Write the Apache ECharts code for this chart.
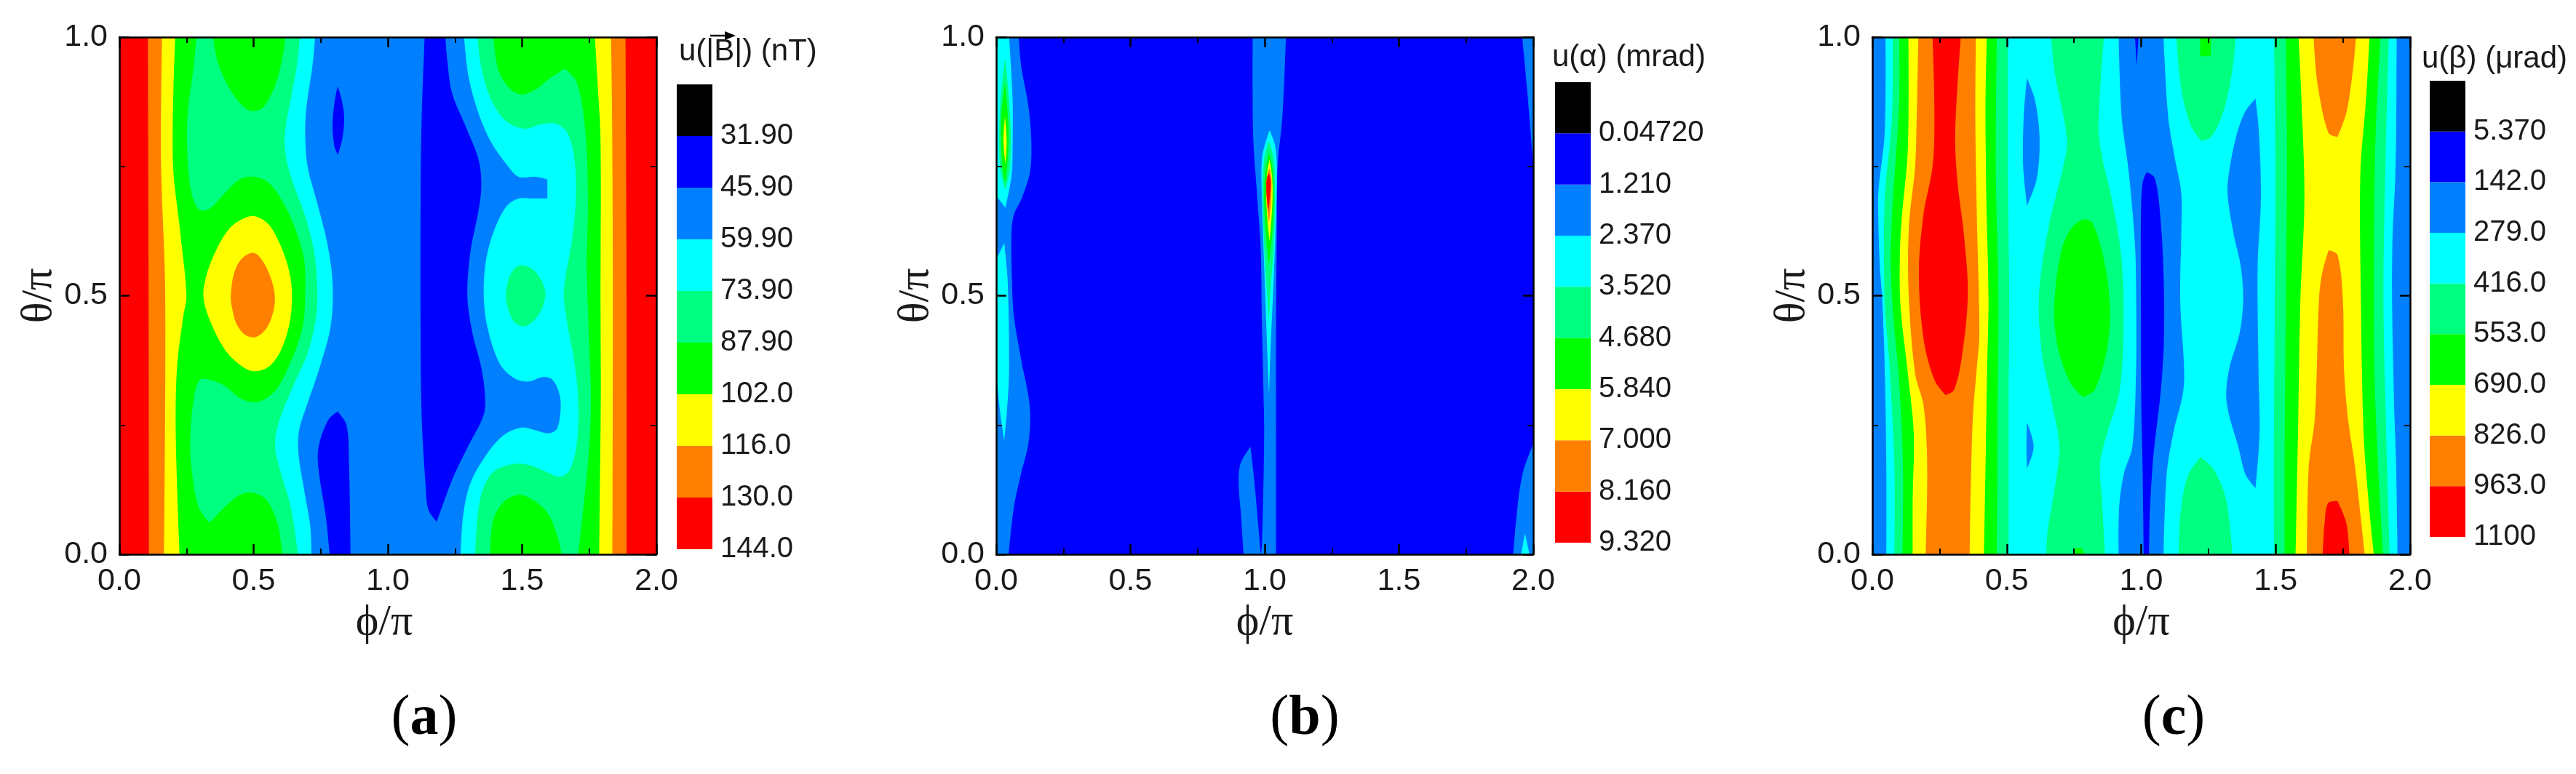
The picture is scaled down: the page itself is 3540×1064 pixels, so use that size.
<!DOCTYPE html>
<html><head><meta charset="utf-8">
<style>html,body{margin:0;padding:0;background:#fff}#c{width:3540px;height:1064px}</style>
<script src="https://cdn.jsdelivr.net/npm/echarts@6/dist/echarts.min.js"></script>
</head><body><div id="c"></div>
<script>
// Contour level colours, low to high
const BLACK='#000000',BLUE='#0000ff',AZURE='#0080ff',CYAN='#00ffff',SPRING='#00ff80',GREEN='#00ff00',YELLOW='#ffff00',ORANGE='#ff8000',RED='#ff0000';
const legendColors=[RED,ORANGE,YELLOW,GREEN,SPRING,CYAN,AZURE,BLUE,BLACK];
const tickLabelsA=['144.0','130.0','116.0','102.0','87.90','73.90','59.90','45.90','31.90',''];
const tickLabelsB=['9.320','8.160','7.000','5.840','4.680','3.520','2.370','1.210','0.04720',''];
const tickLabelsC=['1100','963.0','826.0','690.0','553.0','416.0','279.0','142.0','5.370',''];
const whole=[[0,0],[2,0],[2,1],[0,1]];

// Panel (a): contour outlines as [phi/pi, theta/pi]
const a_orange=[[.106,1],[.109,.5],[.110,0],[1.889,0],[1.889,.5],[1.885,1]];
const a_yellow=[[.159,1],[.155,.763],[.171,.5],[.166,0],[1.836,0],[1.838,.5],[1.835,.85],[1.831,1]];
const a_green=[[.208,1],[.199,.763],[.227,.621],[.250,.5],[.238,.46],[.215,.363],[.210,.234],[.224,0],[1.787,0],[1.789,.105],[1.793,.299],[1.792,.493],[1.792,.802],[1.781,.912],[1.771,1]];
const a_spring=[[.287,1],[.277,.944],[.254,.847],[.256,.750],[.272,.692],[.299,.666],[.336,.668],[.394,.699],[.449,.725],[.503,.730],[.557,.718],[.611,.679],[.656,.628],[.688,.570],[.692,.499],[.683,.441],[.647,.383],[.593,.325],[.548,.302],[.503,.294],[.449,.302],[.394,.325],[.340,.337],[.299,.337],[.277,.299],[.265,.234],[.268,.170],[.295,.092],[.336,.061],[.394,.092],[.449,.115],[.498,.119],[.548,.105],[.589,.060],[.607,0],[1.709,0],[1.731,.105],[1.749,.202],[1.756,.299],[1.748,.428],[1.741,.557],[1.745,.686],[1.736,.815],[1.704,.912],[1.659,.939],[1.605,.921],[1.551,.899],[1.496,.889],[1.451,.902],[1.411,.937],[1.393,1]];
const a_greenTop=[[.349,1],[.367,.950],[.412,.899],[.467,.863],[.503,.857],[.539,.866],[.584,.912],[.611,.970],[.617,1]];
const a_greenBottom=[[1.381,0],[1.392,.066],[1.433,.102],[1.487,.115],[1.541,.105],[1.596,.079],[1.632,.034],[1.647,0]];
const a_yellowIsland=[[.313,.499],[.327,.544],[.367,.595],[.412,.631],[.458,.648],[.503,.654],[.557,.637],[.602,.595],[.634,.544],[.643,.499],[.634,.447],[.602,.395],[.557,.363],[.503,.354],[.458,.363],[.394,.395],[.336,.454]];
const a_orangeIsland=[[.415,.499],[.426,.541],[.453,.570],[.494,.583],[.521,.576],[.557,.544],[.578,.505],[.575,.473],[.548,.437],[.507,.420],[.467,.425],[.435,.447],[.419,.479]];
const a_cyan=[[.672,1],[.661,.944],[.638,.879],[.617,.815],[.620,.770],[.647,.718],[.692,.654],[.724,.589],[.736,.525],[.733,.460],[.701,.389],[.647,.325],[.593,.254],[.580,.208],[.602,.157],[.638,.092],[.665,0],[1.325,0],[1.343,.105],[1.388,.157],[1.460,.174],[1.524,.173],[1.587,.160],[1.641,.150],[1.677,.163],[1.704,.215],[1.709,.299],[1.695,.370],[1.668,.447],[1.655,.502],[1.664,.544],[1.686,.608],[1.700,.686],[1.695,.763],[1.668,.815],[1.623,.833],[1.569,.831],[1.505,.823],[1.433,.841],[1.379,.886],[1.347,.944],[1.334,1]];
const a_springIsland=[[1.501,.559],[1.542,.550],[1.573,.528],[1.587,.502],[1.569,.470],[1.533,.447],[1.501,.441],[1.469,.450],[1.447,.476],[1.440,.502],[1.451,.534],[1.474,.554]];
const a_azure=[[.729,1],[.719,.944],[.697,.866],[.692,.815],[.701,.750],[.737,.679],[.774,.602],[.794,.525],[.787,.441],[.747,.363],[.701,.292],[.670,.241],[.667,.195],[.688,.125],[.711,.054],[.715,0],[1.271,0],[1.280,.073],[1.307,.137],[1.370,.195],[1.433,.231],[1.497,.245],[1.542,.241],[1.596,.234],[1.627,.241],[1.641,.266],[1.641,.305],[1.614,.337],[1.578,.343],[1.524,.334],[1.469,.341],[1.415,.370],[1.370,.441],[1.357,.505],[1.366,.570],[1.397,.628],[1.442,.673],[1.487,.688],[1.533,.688],[1.594,.688],[1.594,.725],[1.551,.730],[1.487,.730],[1.442,.754],[1.379,.802],[1.329,.866],[1.298,.931],[1.284,1]];
const a_blueCenter=[[1.137,1],[1.126,.847],[1.122,.686],[1.122,.428],[1.126,.266],[1.140,.137],[1.151,.086],[1.182,.063],[1.207,.099],[1.244,.150],[1.298,.208],[1.357,.270],[1.361,.312],[1.347,.363],[1.315,.428],[1.296,.499],[1.307,.583],[1.338,.666],[1.348,.712],[1.338,.763],[1.289,.828],[1.239,.892],[1.221,.957],[1.214,1]];
const a_blueUpper=[[.813,.905],[.828,.879],[.837,.847],[.832,.808],[.814,.772],[.801,.789],[.794,.828],[.801,.873]];
const a_blueLower=[[.813,.276],[.846,.250],[.855,.183],[.861,0],[.783,0],[.769,.073],[.742,.163],[.742,.208],[.778,.260]];
const layersA=[[RED,whole],[ORANGE,a_orange],[YELLOW,a_yellow],[GREEN,a_green],[SPRING,a_spring],[GREEN,a_greenTop],[GREEN,a_greenBottom],[YELLOW,a_yellowIsland],[ORANGE,a_orangeIsland],[CYAN,a_cyan],[SPRING,a_springIsland],[AZURE,a_azure],[BLUE,a_blueCenter],[BLUE,a_blueUpper],[BLUE,a_blueLower]];

// Panel (b)
const b_azureLeft=[[.084,1],[.093,.944],[.120,.866],[.131,.795],[.125,.737],[.093,.686],[.066,.657],[.057,.621],[.059,.525],[.066,.460],[.093,.376],[.125,.286],[.120,.215],[.093,.157],[.066,.092],[.046,0],[0,0],[0,1]];
const b_cyanUpperLeft=[[.048,1],[.061,.879],[.061,.783],[.057,.731],[.034,.670],[.016,.683],[0,.692],[0,1]];
const b_springUpperLeft=[[.033,.960],[.052,.847],[.052,.750],[.034,.705],[.014,.750],[.014,.860]];
const b_greenUpperLeft=[[.033,.912],[.046,.821],[.041,.750],[.033,.718],[.021,.761],[.019,.847]];
const b_yellowUpperLeft=[[.033,.847],[.039,.795],[.034,.755],[.027,.802]];
const b_cyanLowerLeft=[[.030,.602],[.043,.525],[.048,.363],[.043,.299],[.030,.220],[.012,.286],[0,.363],[0,.570]];
const b_azureCenter=[[.955,1],[.955,.881],[.958,.795],[.971,.699],[.985,.589],[.989,.460],[.996,.299],[.998,.234],[.994,.105],[.989,.015],[.985,0],[1.042,0],[1.042,.234],[1.042,.428],[1.045,.621],[1.048,.750],[1.066,.847],[1.079,1]];
const b_azureLobe=[[.921,0],[.912,.073],[.903,.137],[.910,.176],[.947,.208],[.962,.137],[.985,0]];
const b_cyanSpike=[[1.018,.820],[1.039,.789],[1.045,.731],[1.039,.608],[1.030,.492],[1.021,.389],[1.016,.308],[1.007,.428],[.998,.557],[.989,.699],[.991,.770]];
const b_springSpike=[[1.016,.799],[1.034,.763],[1.039,.705],[1.033,.589],[1.021,.505],[1.016,.447],[1.007,.518],[.996,.621],[.992,.712],[1.000,.770]];
const b_greenSpike=[[1.016,.776],[1.028,.750],[1.034,.699],[1.028,.621],[1.016,.560],[1.007,.602],[.998,.686],[1.003,.744]];
const b_yellowSpike=[[1.018,.763],[1.028,.725],[1.028,.673],[1.018,.605],[1.010,.647],[1.005,.699],[1.009,.737]];
const b_orangeSpike=[[1.018,.747],[1.025,.725],[1.023,.679],[1.016,.641],[1.009,.673],[1.007,.705],[1.009,.731]];
const b_redSpike=[[1.016,.737],[1.022,.721],[1.018,.686],[1.014,.666],[1.007,.692],[1.007,.725]];
const b_azureRightTop=[[1.959,1],[1.980,.881],[2,.752],[2,1]];
const b_azureRightBottom=[[2,.213],[1.965,.165],[1.945,.108],[1.925,0],[2,0]];
const b_cyanRightBottom=[[1.969,.041],[1.986,0],[1.955,0]];
const layersB=[[BLUE,whole],[AZURE,b_azureLeft],[CYAN,b_cyanUpperLeft],[SPRING,b_springUpperLeft],[GREEN,b_greenUpperLeft],[YELLOW,b_yellowUpperLeft],[CYAN,b_cyanLowerLeft],[AZURE,b_azureCenter],[AZURE,b_azureLobe],[CYAN,b_cyanSpike],[SPRING,b_springSpike],[GREEN,b_greenSpike],[YELLOW,b_yellowSpike],[ORANGE,b_orangeSpike],[RED,b_redSpike],[AZURE,b_azureRightTop],[AZURE,b_azureRightBottom],[CYAN,b_cyanRightBottom]];

// Panel (c)
const c_cyan=[[.049,1],[.046,.815],[.023,.705],[.022,.654],[.028,.557],[.037,.492],[.046,.363],[.052,.170],[.052,0],[1.953,0],[1.948,.170],[1.940,.299],[1.933,.492],[1.935,.621],[1.944,.718],[1.948,.815],[1.950,1]];
const c_springLeft=[[.076,1],[.075,.879],[.069,.815],[.046,.686],[.046,.492],[.064,.363],[.082,.170],[.082,0],[.507,0],[.507,.299],[.509,.492],[.504,.750],[.504,1]];
const c_springCenter=[[.665,1],[.678,.932],[.724,.802],[.710,.750],[.656,.634],[.620,.505],[.629,.395],[.665,.299],[.696,.208],[.683,.144],[.651,.041],[.647,0],[.865,0],[.854,.105],[.847,.176],[.873,.234],[.918,.312],[.934,.428],[.927,.570],[.891,.686],[.854,.770],[.841,.828],[.861,1]];
const c_springTopLobe=[[1.131,1],[1.149,.899],[1.185,.828],[1.224,.799],[1.262,.808],[1.308,.860],[1.339,.937],[1.351,1]];
const c_springBottomLobe=[[1.140,0],[1.145,.073],[1.172,.150],[1.221,.188],[1.271,.163],[1.316,.105],[1.339,0]];
const c_springRight=[[1.494,1],[1.499,.750],[1.497,.492],[1.493,.170],[1.494,0],[1.924,0],[1.911,.234],[1.901,.492],[1.908,.750],[1.921,1]];
const c_greenLeft=[[.100,1],[.100,.879],[.091,.795],[.073,.654],[.069,.557],[.078,.460],[.100,.331],[.114,.170],[.112,0],[.463,0],[.466,.299],[.469,.492],[.459,.750],[.463,1]];
const c_greenCenter=[[.782,.647],[.818,.641],[.864,.563],[.884,.473],[.872,.395],[.827,.318],[.782,.304],[.737,.331],[.692,.395],[.676,.473],[.701,.583],[.737,.628]];
const c_greenBottomSpeck=[[.751,0],[.787,0],[.778,.012],[.755,.012]];
const c_greenTopSpeck=[[1.219,1],[1.259,1],[1.259,.963],[1.219,.963]];
const c_greenRight=[[1.538,1],[1.542,.750],[1.538,.492],[1.533,.170],[1.533,0],[1.899,0],[1.881,.170],[1.867,.363],[1.866,.621],[1.872,.815],[1.890,1]];
const c_yellowLeft=[[.134,1],[.132,.783],[.109,.647],[.102,.570],[.105,.479],[.132,.350],[.154,.234],[.150,.105],[.150,0],[.415,0],[.421,.170],[.427,.363],[.432,.492],[.424,.686],[.421,.879],[.426,1]];
const c_yellowRight=[[1.585,1],[1.596,.879],[1.607,.686],[1.592,.492],[1.583,.234],[1.574,0],[1.865,0],[1.845,.105],[1.827,.234],[1.817,.492],[1.815,.737],[1.836,.879],[1.849,1]];
const c_orangeLeft=[[.171,1],[.165,.847],[.159,.750],[.136,.634],[.135,.505],[.159,.350],[.191,.286],[.204,.170],[.198,0],[.362,0],[.365,.105],[.374,.266],[.389,.363],[.398,.428],[.389,.647],[.383,.847],[.385,1]];
const c_orangeTop=[[1.641,1],[1.655,.912],[1.696,.815],[1.730,.807],[1.763,.854],[1.786,.931],[1.799,1]];
const c_orangeBottom=[[1.697,.588],[1.730,.579],[1.750,.492],[1.754,.363],[1.768,.266],[1.795,.170],[1.831,0],[1.616,0],[1.623,.170],[1.646,.266],[1.661,.492],[1.673,.544]];
const c_redLeft=[[.224,1],[.231,.847],[.224,.750],[.191,.660],[.173,.544],[.191,.415],[.231,.337],[.272,.308],[.304,.318],[.335,.389],[.355,.505],[.340,.621],[.317,.718],[.308,.815],[.329,1]];
const c_redBottom=[[1.695,.099],[1.730,.103],[1.763,.060],[1.774,0],[1.675,0],[1.682,.060]];
const c_azureUpperIsland=[[.575,.921],[.606,.876],[.622,.802],[.611,.725],[.575,.674],[.561,.750],[.563,.847]];
const c_azureLowerIsland=[[.575,.255],[.600,.208],[.575,.166],[.573,.208]];
const c_azureRightIsland=[[1.425,.881],[1.438,.815],[1.445,.686],[1.433,.557],[1.436,.363],[1.440,.234],[1.425,.128],[1.388,.154],[1.361,.208],[1.325,.273],[1.316,.312],[1.329,.363],[1.366,.428],[1.379,.492],[1.370,.557],[1.343,.621],[1.321,.699],[1.330,.750],[1.357,.815],[1.388,.857]];
const c_azureCenter=[[.916,1],[.927,.847],[.954,.737],[.977,.595],[.981,.492],[.981,.363],[.967,.208],[.936,.157],[.918,.092],[.916,0],[1.083,0],[1.095,.157],[1.122,.241],[1.153,.305],[1.160,.350],[1.145,.492],[1.149,.621],[1.149,.699],[1.126,.763],[1.100,.847],[1.083,1]];
const c_blueCenter=[[1.020,.739],[1.050,.728],[1.072,.647],[1.084,.525],[1.084,.408],[1.072,.312],[1.045,.189],[1.032,.079],[1.029,0],[1.009,0],[1.005,.170],[1.000,.299],[.999,.492],[.999,.654],[1.005,.718]];
const c_blueTop=[[.977,1],[.990,1],[.983,.944]];
const layersC=[[AZURE,whole],[CYAN,c_cyan],[SPRING,c_springLeft],[SPRING,c_springCenter],[SPRING,c_springTopLobe],[SPRING,c_springBottomLobe],[SPRING,c_springRight],[GREEN,c_greenLeft],[GREEN,c_greenCenter],[GREEN,c_greenBottomSpeck],[GREEN,c_greenTopSpeck],[GREEN,c_greenRight],[YELLOW,c_yellowLeft],[YELLOW,c_yellowRight],[ORANGE,c_orangeLeft],[ORANGE,c_orangeTop],[ORANGE,c_orangeBottom],[RED,c_redLeft],[RED,c_redBottom],[AZURE,c_azureUpperIsland],[AZURE,c_azureLowerIsland],[AZURE,c_azureRightIsland],[AZURE,c_azureCenter],[BLUE,c_blueCenter],[BLUE,c_blueTop]];

const panels=[
 {layers:layersA,labels:tickLabelsA,grid:{left:164,top:51,width:738,height:711},leg:{left:930,top:116,width:49,height:639},title:'u(|B|) (nT)',tx:933,ty:50,letter:'a',lx:583,namePad:[0,10,0,0]},
 {layers:layersB,labels:tickLabelsB,grid:{left:1369,top:51,width:738,height:711},leg:{left:2137,top:113,width:49,height:633},title:'u(α) (mrad)',tx:2133,ty:58,letter:'b',lx:1793,namePad:0},
 {layers:layersC,labels:tickLabelsC,grid:{left:2573,top:51,width:739,height:711},leg:{left:3339,top:111,width:49,height:627},title:'u(β) (μrad)',tx:3328,ty:60,letter:'c',lx:2987,namePad:0}
];
const SANS='"Liberation Sans",Arial,sans-serif', SERIF='"Liberation Serif","DejaVu Serif",serif';
const grids=[],xAxes=[],yAxes=[],series=[],titles=[];
const line={show:true,onZero:false,lineStyle:{color:'#000',width:2.5}};
function sideAxis(extra,max,interval,gi,pos,labels){
  return Object.assign({type:'value',gridIndex:gi,position:pos,min:0,max:max,interval:interval,z:10,
    axisLine:line,splitLine:{show:false},
    axisTick:{show:true,inside:true,length:14,lineStyle:{color:'#000',width:2.5}},
    minorTick:{show:true,splitNumber:2,length:8,lineStyle:{color:'#000',width:2}},
    minorSplitLine:{show:false},
    axisLabel:{show:labels,fontFamily:SANS,fontSize:43,color:'#1a1a1a',formatter:v=>v.toFixed(1)}},extra);
}
// Traces a contour outline as gentle curves through its vertices; frame points and sharp tips stay corners.
function onFrame(p){return p[0]<=0||p[0]>=2||p[1]<=0||p[1]>=1;}
function curvePoints(data,api){
  const n=data.length, pts=data.map(p=>api.coord(p));
  const tan=pts.map((p,i)=>{
    const a=pts[(i+n-1)%n], b=pts[(i+1)%n];
    const ux=p[0]-a[0],uy=p[1]-a[1],vx=b[0]-p[0],vy=b[1]-p[1];
    const d0=Math.hypot(ux,uy),d1=Math.hypot(vx,vy);
    const cos=(ux*vx+uy*vy)/(d0*d1||1);
    if(onFrame(data[i])||cos<.25) return {corner:true};
    return {x:(b[0]-a[0])*.33,y:(b[1]-a[1])*.33,d0:d0/(d0+d1),d1:d1/(d0+d1)};
  });
  const out=[];
  for(let i=0;i<n;i++){
    const j=(i+1)%n,p=pts[i],q=pts[j],t=tan[i],s=tan[j];
    const c1=t.corner?p:[p[0]+t.x*t.d1,p[1]+t.y*t.d1];
    const c2=s.corner?q:[q[0]-s.x*s.d0,q[1]-s.y*s.d0];
    for(let k=0;k<10;k++){
      const u=k/10,w=1-u;
      out.push([w*w*w*p[0]+3*w*w*u*c1[0]+3*w*u*u*c2[0]+u*u*u*q[0],
                w*w*w*p[1]+3*w*w*u*c1[1]+3*w*u*u*c2[1]+u*u*u*q[1]]);
    }
  }
  return out;
}
panels.forEach((p,i)=>{
  const gi=grids.length;
  grids.push(p.grid);
  const xi=xAxes.length, yi=yAxes.length;
  const phiName={name:'ϕ/π',nameLocation:'middle',nameGap:46,nameTextStyle:{fontFamily:SERIF,fontSize:60,color:'#1a1a1a',padding:p.namePad}};
  const thName={name:'θ/π',nameLocation:'middle',nameGap:64,nameTextStyle:{fontFamily:SERIF,fontSize:60,color:'#1a1a1a'}};
  xAxes.push(sideAxis(Object.assign({},phiName,{axisLabel:{show:true,margin:16,fontFamily:SANS,fontSize:43,color:'#1a1a1a',formatter:v=>v.toFixed(1)}}),2,.5,gi,'bottom',true));
  xAxes.push(sideAxis({},2,.5,gi,'top',false));
  yAxes.push(sideAxis(Object.assign({},thName,{axisLabel:{show:true,margin:16,fontFamily:SANS,fontSize:43,color:'#1a1a1a',formatter:v=>v.toFixed(1)}}),1,.5,gi,'left',true));
  yAxes.push(sideAxis({},1,.5,gi,'right',false));
  series.push({type:'custom',coordinateSystem:'cartesian2d',xAxisIndex:xi,yAxisIndex:yi,clip:true,silent:true,animation:false,
    data:p.layers.map((l,k)=>[k,k]),encode:{x:-1,y:-1},
    renderItem:(params,api)=>{const L=p.layers[params.dataIndex];
      return {type:'polygon',shape:{points:curvePoints(L[1],api)},style:{fill:L[0]}};}});
  // Colour legend
  const lg=grids.length; grids.push(p.leg);
  const lx=xAxes.length, ly=yAxes.length;
  xAxes.push({type:'value',gridIndex:lg,min:0,max:1,show:false});
  yAxes.push({type:'value',gridIndex:lg,min:0,max:9,interval:1,position:'right',
    axisLine:{show:false},axisTick:{show:false},splitLine:{show:false},
    axisLabel:{show:true,margin:11,padding:[8,0,0,0],fontFamily:SANS,fontSize:40,color:'#1a1a1a',formatter:(v)=>p.labels[Math.round(v)]}});
  series.push({type:'custom',coordinateSystem:'cartesian2d',xAxisIndex:lx,yAxisIndex:ly,silent:true,animation:false,
    data:legendColors.map((c,k)=>[k,k]),encode:{x:-1,y:-1},
    renderItem:(params,api)=>{const k=params.dataIndex;
      const a=api.coord([0,k+1]),b=api.coord([1,k]);
      return {type:'rect',shape:{x:a[0],y:a[1],width:b[0]-a[0],height:b[1]-a[1]},style:{fill:legendColors[k]}};}});
  titles.push({text:p.title,left:p.tx,top:p.ty,padding:0,textStyle:{fontFamily:SANS,fontSize:42,fontWeight:'normal',color:'#1a1a1a'}});
  titles.push({text:'{r|(}{b|'+p.letter+'}{r|)}',left:p.lx,top:950,padding:0,textAlign:'center',
    textStyle:{fontWeight:'normal',rich:{r:{fontFamily:SERIF,fontSize:78,fontWeight:'normal',color:'#000'},b:{fontFamily:SERIF,fontSize:78,fontWeight:'bold',color:'#000'}}}});
});
const chart=echarts.init(document.getElementById('c'),null,{renderer:'canvas'});
chart.setOption({animation:false,backgroundColor:'#fff',title:titles,grid:grids,xAxis:xAxes,yAxis:yAxes,series:series,
  graphic:[
    {type:'line',shape:{x1:976,y1:49,x2:1000,y2:49},style:{stroke:'#000',lineWidth:2.5}},
    {type:'polygon',shape:{points:[[996,43],[1011,49],[996,55]]},style:{fill:'#000'}}
  ]});
</script></body></html>
